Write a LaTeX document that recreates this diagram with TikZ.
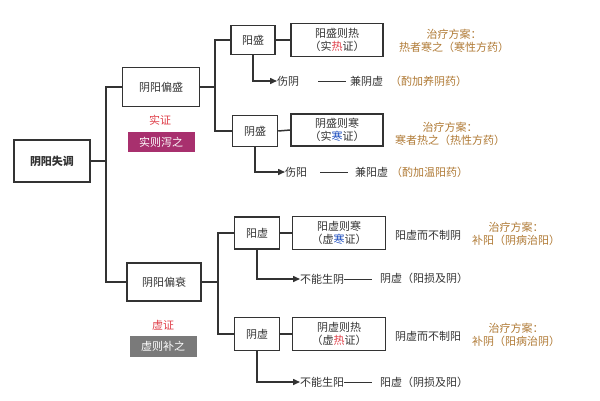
\documentclass[tikz,border=0pt]{standalone}
\usepackage{fontspec}
\setmainfont{Noto Sans CJK SC}
\usetikzlibrary{arrows.meta}
\definecolor{ln}{HTML}{333333}
\definecolor{brn}{HTML}{B07A35}
\definecolor{rd}{HTML}{E0404A}
\definecolor{bl}{HTML}{2050C0}
\definecolor{mag}{HTML}{A8306E}
\definecolor{gry}{HTML}{7A7A7A}
\begin{document}
\begin{tikzpicture}[x=1pt,y=-1pt,
  bx/.style={draw=ln,line width=1.5pt,inner sep=0pt,font=\fontsize{11}{13}\selectfont,text=ln,align=center},
  tx/.style={inner sep=0pt,font=\fontsize{11}{13}\selectfont,text=ln,align=center},
  tr/.style={inner sep=0pt,font=\fontsize{11}{13}\selectfont,text=brn,align=center},
  ln/.style={draw=ln,line width=1.5pt},
  ar/.style={ln,-{Triangle[length=7pt,width=6pt]}}]
\useasboundingbox (0,0) rectangle (600,400);
\fill[white] (0,0) rectangle (600,400);
% root
\node[bx,minimum width=76pt,minimum height=42pt,font=\bfseries\fontsize{11}{13}\selectfont] (root) at (52,161) {阴阳失调};
\node[bx,minimum width=77pt,minimum height=39pt] (ps) at (161,87) {阴阳偏盛};
\node[bx,minimum width=74pt,minimum height=38pt] (pa) at (164,282) {阴阳偏衰};
\coordinate (t1) at (106,87); \coordinate (t2) at (106,282);
\draw[ln] (root.east) -- (106,161);
\draw[ln] (ps.west) -- (t1) -- (t2) -- (pa.west);
\node[tx,text=rd] (sz) at (160,120) {实证};
\node[fill=mag,text=white,minimum width=67pt,minimum height=20pt,inner sep=0pt,font=\fontsize{11}{13}\selectfont] (sx) at (161,142) {实则泻之};
\node[tx,text=rd] (xz) at (163,325) {虚证};
\node[fill=gry,text=white,minimum width=67pt,minimum height=21pt,inner sep=0pt,font=\fontsize{11}{13}\selectfont] (xb) at (163,346) {虚则补之};
% upper branch
\node[bx,minimum width=44pt,minimum height=29pt] (ys) at (253,40) {阳盛};
\node[bx,minimum width=45pt,minimum height=31pt] (yn) at (255,131) {阴盛};
\draw[ln] (ps.east) -- (215,87);
\draw[ln] (ys.west) -- (215,40) -- (215,131) -- (yn.west);
\node[bx,minimum width=92pt,minimum height=33pt] (yr) at (337,40) {阳盛则热\\（实\textcolor{rd}{热}证）};
\node[bx,minimum width=92pt,minimum height=32pt] (yh) at (337,130) {阴盛则寒\\（实\textcolor{bl}{寒}证）};
\draw[ln] (ys.east) -- (yr.west);
\draw[ln] (yn.east) -- (yh.west);
\node[tr] (z1) at (454,41) {治疗方案：\\热者寒之（寒性方药）};
\node[tr] (z2) at (450,134) {治疗方案：\\寒者热之（热性方药）};
\node[tx,anchor=west] (sy1) at (277,81) {伤阴};
\node[tx,anchor=west] (jy1) at (350,81) {兼阴虚};
\node[tr,anchor=west] (jj1) at (390,81) {（酌加养阴药）};
\draw[ar] (ys.south) |- (sy1.west);
\draw[ln,line width=1pt] (318,81) -- (346,81);
\node[tx,anchor=west] (sy2) at (285,172) {伤阳};
\node[tx,anchor=west] (jy2) at (355,172) {兼阳虚};
\node[tr,anchor=west] (jj2) at (391,172) {（酌加温阳药）};
\draw[ar] (yn.south) |- (sy2.west);
\draw[ln,line width=1pt] (320,172) -- (348,172);
% lower branch
\node[bx,minimum width=45pt,minimum height=32pt] (yx) at (257,233) {阳虚};
\node[bx,minimum width=45pt,minimum height=33pt] (nx) at (257,334) {阴虚};
\draw[ln] (pa.east) -- (218,282);
\draw[ln] (yx.west) -- (218,233) -- (218,334) -- (nx.west);
\node[bx,minimum width=93pt,minimum height=33pt] (yxh) at (339,233) {阳虚则寒\\（虚\textcolor{bl}{寒}证）};
\node[bx,minimum width=93pt,minimum height=33pt] (nxr) at (339,334) {阴虚则热\\（虚\textcolor{rd}{热}证）};
\draw[ln] (yx.east) -- (yxh.west);
\draw[ln] (nx.east) -- (nxr.west);
\node[tx] (b1) at (428,235) {阳虚而不制阴};
\node[tx] (b2) at (428,336) {阴虚而不制阳};
\node[tr] (z3) at (516,234) {治疗方案：\\补阳（阴病治阳）};
\node[tr] (z4) at (516,335) {治疗方案：\\补阴（阳病治阴）};
\node[tx,anchor=west] (bn1) at (300,279) {不能生阴};
\node[tx,anchor=west] (yq1) at (380,278) {阴虚（阳损及阴）};
\draw[ar] (yx.south) |- (bn1.west);
\draw[ln,line width=1pt] (bn1.east) -- (372,279);
\node[tx,anchor=west] (bn2) at (300,382) {不能生阳};
\node[tx,anchor=west] (yq2) at (380,382) {阳虚（阴损及阳）};
\draw[ar] (nx.south) |- (bn2.west);
\draw[ln,line width=1pt] (bn2.east) -- (372,382);
\end{tikzpicture}
\end{document}
